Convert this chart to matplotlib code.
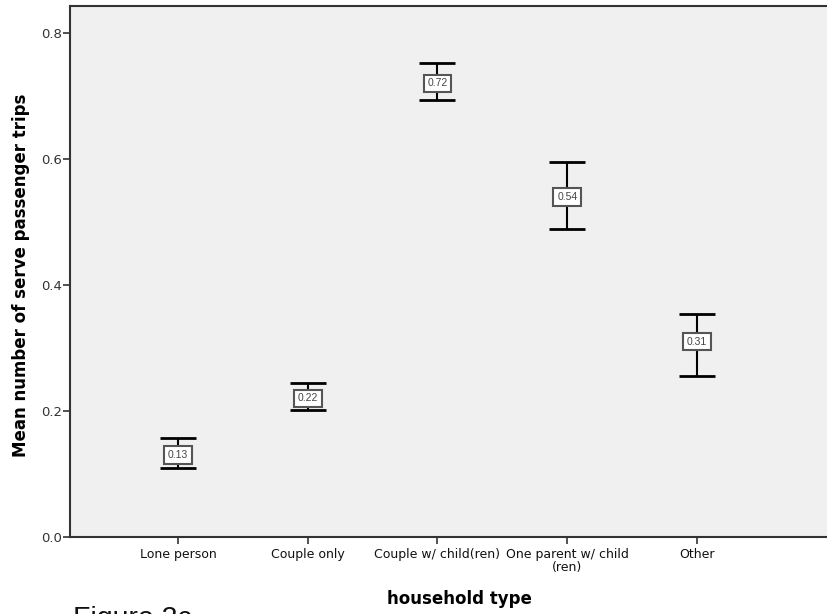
import matplotlib
matplotlib.use("Agg")
import matplotlib.pyplot as plt

plt.rcParams['font.family'] = ['DejaVu Sans']

categories = ["Lone person", "Couple only", "Couple w/ child(ren)",
              "One parent w/ child\n(ren)", "Other"]
means = [0.13, 0.22, 0.72, 0.54, 0.31]
ci_low = [0.110, 0.202, 0.694, 0.489, 0.256]
ci_high = [0.157, 0.244, 0.752, 0.595, 0.354]
y_ticks = [0.0, 0.2, 0.4, 0.6, 0.8]

W, H = 828, 614
fig = plt.figure(figsize=(W / 100, H / 100), dpi=100)
ax = fig.add_axes([70 / W, (H - 537) / H, (W - 70) / W, (537 - 6) / H])
ax.set_facecolor("#f0f0f0")

x = list(range(len(categories)))
lower = [m - lo for m, lo in zip(means, ci_low)]
upper = [hi - m for m, hi in zip(means, ci_high)]
ax.errorbar(x, means, yerr=[lower, upper], fmt="none", ecolor="black",
            elinewidth=1.5, capsize=12.8, capthick=2.0, zorder=2)

# mean value boxes drawn over each interval
for xi, m in zip(x, means):
    ax.text(xi, m, f"{m:.2f}", ha="center", va="center", fontsize=7.5,
            family="Liberation Sans", color="#444444", zorder=3,
            bbox=dict(boxstyle="square,pad=0.35", facecolor="white",
                      edgecolor="#555555", linewidth=1.5))

ax.set_xlim(-0.832, 5.01)
ax.set_ylim(0, 0.843)
ax.set_xticks(x)
ax.set_xticklabels(categories, fontsize=9, color="#111111", linespacing=0.95)
ax.set_yticks(y_ticks)
ax.set_yticklabels([f"{v:.1f}" for v in y_ticks], fontsize=9.5, color="#333333")
ax.tick_params(axis="both", direction="out", length=5, width=1.2, color="#333333")
ax.tick_params(axis="x", pad=3)
ax.tick_params(axis="y", pad=1)

for side in ("left", "top", "bottom"):
    ax.spines[side].set_color("#333333")
    ax.spines[side].set_linewidth(1.5)
ax.spines["right"].set_visible(False)

fig.text(21 / W, 1 - 275 / H, "Mean number of serve passenger trips",
         fontsize=12, fontweight="bold", rotation=90, ha="center", va="center")
fig.text(459 / W, 1 - 599 / H, "household type", fontsize=12,
         fontweight="bold", ha="center", va="center")
fig.text(73 / W, 1 - 626 / H, "Figure 2c", fontsize=20.5, family="Liberation Sans",
         ha="left", va="baseline", color="#111111")

fig.savefig("out.png", dpi=100)
